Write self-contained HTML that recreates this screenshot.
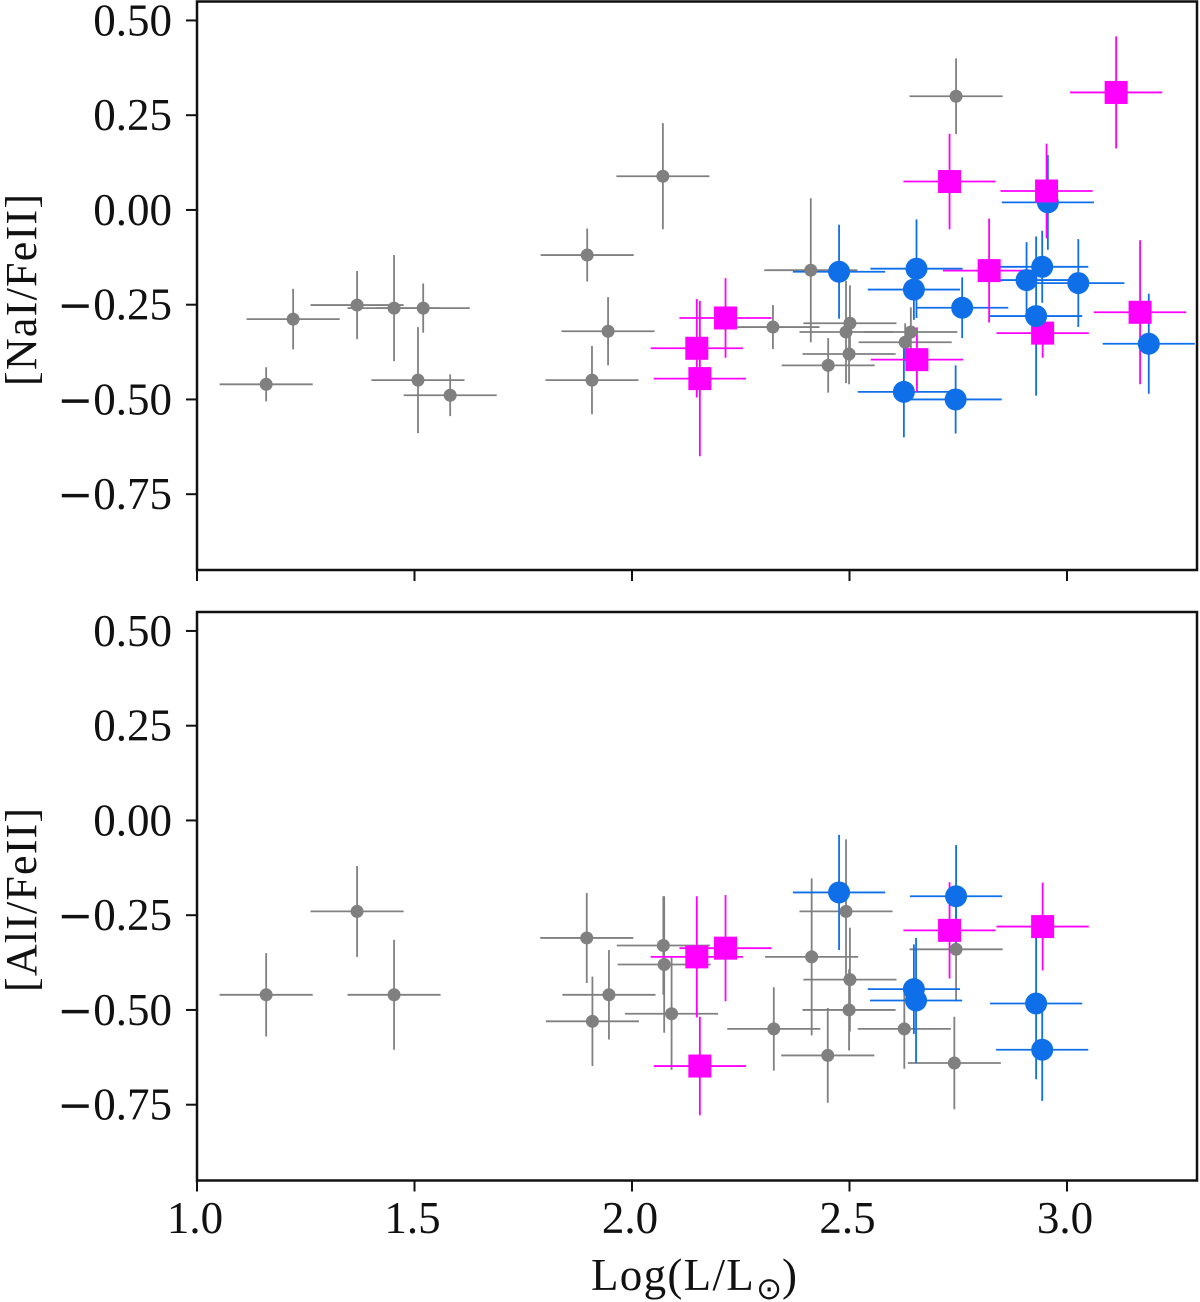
<!DOCTYPE html>
<html>
<head>
<meta charset="utf-8">
<title>Abundance vs luminosity</title>
<style>
html,body{margin:0;padding:0;background:#fff;width:1200px;height:1302px;overflow:hidden}
svg{display:block}
text{font-family:"Liberation Serif",serif;fill:#111}
</style>
</head>
<body>
<svg id="chart" width="1200" height="1302" viewBox="0 0 1200 1302" xmlns="http://www.w3.org/2000/svg"></svg>
<script>
const xTickValues = [1.0, 1.5, 2.0, 2.5, 3.0];
const xTickLabels = ["1.0", "1.5", "2.0", "2.5", "3.0"];
const yTickValues = [0.5, 0.25, 0, -0.25, -0.5, -0.75];
const yTickLabels = ["0.50", "0.25", "0.00", "0.25", "0.50", "0.75"];
const yTickNegative = [false, false, false, true, true, true];
const xErrGray = 0.107;
const xErrBlue = 0.106;
const xErrMagenta = 0.106;

const naGrayX = [1.159,1.221,1.368,1.453,1.52,1.508,1.582,1.897,1.908,1.945,2.071,2.324,2.411,2.451,2.492,2.501,2.499,2.628,2.641,2.745];
const naGrayY = [-0.46,-0.288,-0.251,-0.259,-0.259,-0.449,-0.489,-0.119,-0.449,-0.32,0.089,-0.309,-0.159,-0.41,-0.322,-0.299,-0.38,-0.349,-0.322,0.30];
const naGrayE = [0.045,0.08,0.09,0.14,0.065,0.14,0.055,0.07,0.09,0.09,0.14,0.058,0.19,0.072,0.135,0.10,0.08,0.05,0.065,0.10];

const naBlueEarlyX = [2.956];
const naBlueEarlyY = [0.02];
const naBlueEarlyE = [0.125];
const naBlueX = [2.476,2.654,2.648,2.759,2.625,2.744,2.907,2.943,2.929,3.026,3.188];
const naBlueY = [-0.163,-0.155,-0.21,-0.258,-0.48,-0.50,-0.185,-0.15,-0.28,-0.193,-0.353];
const naBlueE = [0.124,0.13,0.08,0.08,0.12,0.09,0.1,0.095,0.21,0.116,0.132];

const naMagentaX = [3.113,2.730,2.953,2.821,3.168,2.944,2.655,2.215,2.149,2.156];
const naMagentaY = [0.31,0.075,0.05,-0.16,-0.27,-0.325,-0.395,-0.285,-0.365,-0.445];
const naMagentaE = [0.148,0.126,0.125,0.137,0.19,0.065,0.085,0.105,0.13,0.205];

const alGrayX = [1.159,1.368,1.453,1.896,2.072,2.074,1.947,1.909,2.091,2.326,2.413,2.450,2.492,2.501,2.499,2.626,2.745,2.741];
const alGrayY = [-0.46,-0.24,-0.46,-0.31,-0.33,-0.38,-0.46,-0.53,-0.51,-0.55,-0.36,-0.62,-0.24,-0.42,-0.50,-0.55,-0.34,-0.64];
const alGrayE = [0.11,0.12,0.145,0.119,0.13,0.18,0.118,0.118,0.148,0.11,0.207,0.125,0.19,0.137,0.107,0.105,0.137,0.122];

const alBlueEarlyX = [];
const alBlueEarlyY = [];
const alBlueEarlyE = [];
const alBlueX = [2.476,2.745,2.648,2.653,2.929,2.943];
const alBlueY = [-0.19,-0.20,-0.445,-0.475,-0.483,-0.605];
const alBlueE = [0.152,0.135,0.118,0.165,0.2,0.135];

const alMagentaX = [2.149,2.215,2.156,2.730,2.944];
const alMagentaY = [-0.36,-0.337,-0.648,-0.29,-0.28];
const alMagentaE = [0.16,0.14,0.13,0.127,0.116];

const NS = "http://www.w3.org/2000/svg";
const svg = document.getElementById("chart");
const GRAY = "#808080", BLUE = "#0f6fe8", MAGENTA = "#ff00ff";
const xScale = v => 197 + (v - 1) * 435;
const yDomainMax = 0.55;
function yScaleFor(panelTop){ return v => panelTop + (yDomainMax - v) * 379; }
function make(tag, attrs, parent){
  const el = document.createElementNS(NS, tag);
  for (const k in attrs) el.setAttribute(k, attrs[k]);
  (parent || svg).appendChild(el);
  return el;
}
function drawErrors(g, xs, ys, es, xe, color, y){
  xs.forEach((x, i) => {
    const h = make("line", {x1:xScale(x-xe), x2:xScale(x+xe), y1:y(ys[i]), y2:y(ys[i]), stroke:color, "stroke-width":1.8}, g);
    
    
    const v = make("line", {x1:xScale(x), x2:xScale(x), y1:y(ys[i]+es[i]), y2:y(ys[i]-es[i]), stroke:color, "stroke-width":1.8}, g);
    
    
  });
}
function drawCircles(g, xs, ys, r, color, y, name){
  xs.forEach((x, i) => {
    const c = make("circle", {cx:xScale(x), cy:y(ys[i]), r:r, fill:color}, g);
    
    
  });
}
function drawSquares(g, xs, ys, color, y){
  xs.forEach((x, i) => {
    const s = make("rect", {x:xScale(x)-11.5, y:y(ys[i])-11.5, width:23, height:23, fill:color}, g);
    
    
  });
}
function drawPanel(opts){
  const y = yScaleFor(opts.top);
  const bottom = opts.top + 568.5;
  const g = make("g", {});
  
  

  drawErrors(g, opts.gray[0], opts.gray[1], opts.gray[2], xErrGray, GRAY, y);
  drawErrors(g, opts.blueEarly[0], opts.blueEarly[1], opts.blueEarly[2], xErrBlue, BLUE, y);
  drawErrors(g, opts.blue[0], opts.blue[1], opts.blue[2], xErrBlue, BLUE, y);
  drawErrors(g, opts.magenta[0], opts.magenta[1], opts.magenta[2], xErrMagenta, MAGENTA, y);
  drawCircles(g, opts.gray[0], opts.gray[1], 6.5, GRAY, y, 'gray-point');
  drawCircles(g, opts.blueEarly[0], opts.blueEarly[1], 11, BLUE, y, 'blue-point');
  drawSquares(g, opts.magenta[0], opts.magenta[1], MAGENTA, y);
  drawCircles(g, opts.blue[0], opts.blue[1], 11, BLUE, y, 'blue-point');

  const frame = make("rect", {x:197, y:opts.top, width:1000, height:bottom-opts.top, fill:"none", stroke:"#111", "stroke-width":2.5}, g);
  
  

  yTickValues.forEach((v, i) => {
    const t = make("line", {x1:186, x2:197, y1:y(v), y2:y(v), stroke:"#111", "stroke-width":2}, g);
    
    
    const label = make("text", {x:172, y:y(v)+15, "text-anchor":"end", "font-size":45}, g);
    
    
    if (yTickNegative[i]) {
      const m = make("tspan", {style:'font-family:"DejaVu Sans",sans-serif;font-size:43px'}, label);
      m.textContent = "\u2212";
    }
    label.appendChild(document.createTextNode(yTickLabels[i]));
  });
  xTickValues.forEach((v, i) => {
    const t = make("line", {x1:xScale(v), x2:xScale(v), y1:bottom, y2:bottom+11, stroke:"#111", "stroke-width":2}, g);
    
    
    if (opts.showX) {
      const label = make("text", {x:xScale(v)-2, y:1233, "text-anchor":"middle", "font-size":45}, g);
      
      
      label.textContent = xTickLabels[i];
    }
  });
  const title = make("text", {transform:"translate(36 "+opts.labelY+") rotate(-90)", "text-anchor":"middle", "font-size":44, textLength:opts.labelLen, lengthAdjust:"spacing"}, g);
  
  
  title.textContent = opts.label;
}
drawPanel({name:"nai-panel", top:1.5, showX:false, label:"[NaI/FeII]", labelY:290, labelLen:192,
  gray:[naGrayX,naGrayY,naGrayE], blueEarly:[naBlueEarlyX,naBlueEarlyY,naBlueEarlyE], blue:[naBlueX,naBlueY,naBlueE], magenta:[naMagentaX,naMagentaY,naMagentaE]});
drawPanel({name:"ali-panel", top:612, showX:true, label:"[AlI/FeII]", labelY:900, labelLen:184,
  gray:[alGrayX,alGrayY,alGrayE], blueEarly:[alBlueEarlyX,alBlueEarlyY,alBlueEarlyE], blue:[alBlueX,alBlueY,alBlueE], magenta:[alMagentaX,alMagentaY,alMagentaE]});

const xt = make("text", {x:591, y:1290, "font-size":45, "letter-spacing":1.3});


xt.appendChild(document.createTextNode("Log(L/L"));
const sun = make("tspan", {dy:9, dx:1, "letter-spacing":0, style:'font-family:"DejaVu Sans",sans-serif;font-size:31px'}, xt);
sun.textContent = "\u2299";
const close = make("tspan", {dy:-9}, xt);
close.textContent = ")";
</script>
</body>
</html>
